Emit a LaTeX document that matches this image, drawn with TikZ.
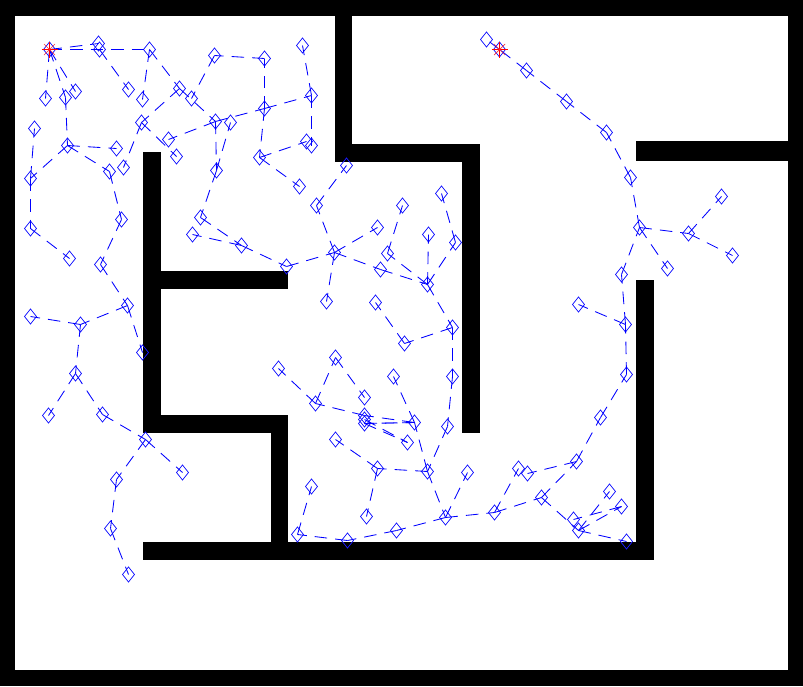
\documentclass[tikz,border=0pt]{standalone}
\usetikzlibrary{shapes.geometric}
\tikzset{
  wall/.style={fill=black,draw=none},
  mk/.style={shape=diamond,draw=blue!90!white,line width=0.75pt,minimum width=12pt,minimum height=15pt,inner sep=0pt,outer sep=0pt},
  lnk/.style={draw=blue,line width=0.85pt,dash pattern=on 12.5pt off 8pt},
  star/.style={draw=red,line width=1pt},
  stardiag/.style={draw=red!80!white,line width=0.7pt},
}
\begin{document}
\begin{tikzpicture}[x=1pt,y=-1pt]
\useasboundingbox (0,0) rectangle (803,686);
\fill[white] (0,0) rectangle (803,686);
% outer frame
\fill[wall] (0,0) rectangle (803,15.5);
\fill[wall] (0,670) rectangle (803,686);
\fill[wall] (0,0) rectangle (15,686);
\fill[wall] (788,0) rectangle (803,686);
% inner walls
\fill[wall] (335,15) rectangle (352,162);
\fill[wall] (335,144) rectangle (480,162);
\fill[wall] (462,144) rectangle (480,433);
\fill[wall] (636,141) rectangle (788,161);
\fill[wall] (636,280) rectangle (654,560);
\fill[wall] (143,542) rectangle (654,560);
\fill[wall] (271,415) rectangle (288,560);
\fill[wall] (143,415) rectangle (288,433);
\fill[wall] (143,152) rectangle (161,433);
\fill[wall] (143,271) rectangle (288,289);
% nodes
\begin{scope}[shift={(0.5,0.5)}]
\foreach \n/\x/\y in {
 Ra/49/49,Rb/499/49,
 a/98/43,b/99/49,c/149/49,d/45/98,e/65/97,f/75/91,g/128/89,h/142/99,i/179/88,j/191/98,
 k/214/55,l/264/58,m/302/45,n/311/95,o/264/108,p/215/121,q/230/122,r/141/122,s/168/139,
 t/176/156,u/123/167,v/116/148,w/67/145,x/34/128,y/30/178,z/109/171,aa/121/219,ab/30/228,
 ac/69/258,ad/100/264,ae/216/170,af/200/217,ag/192/234,ah/241/245,ai/286/266,aj/334/252,
 ak/259/157,al/306/141,am/311/145,an/299/186,ao/316/205,ap/346/165,
 ba/377/227,bb/402/205,bc/387/253,bd/380/269,be/441/193,bf/455/242,bg/428/234,bh/427/284,
 bi/326/301,bj/375/302,bk/404/343,bl/452/327,
 ca/278/368,cb/335/357,cc/315/403,cd/364/397,ce/364/415,cf/364/419,cg/364/423,ch/393/376,
 ci/452/376,cj/414/422,ck/447/426,cl/407/442,cm/335/439,cn/377/468,co/427/471,cp/467/472,
 cq/311/486,cr/366/516,cs/297/534,ct/347/540,cu/396/530,cv/445/517,cw/494/512,cx/518/468,
 cy/527/473,cz/576/461,da/541/497,db/573/519,dc/578/530,dd/609/491,de/621/506,df/626/541,
 dg/600/417,dh/626/374,
 ea/127/305,eb/142/352,ec/80/324,ed/30/316,ee/75/373,ef/48/415,eg/102/414,eh/145/439,
 ei/182/472,ej/116/479,ek/110/528,el/128/574,
 fa/486/39,fb/526/70,fc/566/101,fd/606/132,fe/630/177,ff/639/227,fg/688/233,fh/721/196,
 fi/732/255,fj/667/268,fk/621/274,fl/578/304,fm/625/324}
 {\node[mk] (\n) at (\x,\y) {};}
\end{scope}
% connectors, parent to child
\foreach \s/\t in {
 Ra/a,Ra/b,Ra/c,Ra/d,Ra/e,Ra/f,b/g,c/h,c/i,i/r,r/u,r/t,i/p,p/s,p/o,o/l,l/k,k/j,o/n,n/m,n/am,
 o/ak,ak/al,ak/an,p/ae,ae/q,ae/af,af/ah,ah/ag,ah/ai,ai/aj,aj/ao,ao/ap,
 e/w,w/v,w/y,w/z,y/x,y/ab,ab/ac,z/aa,aa/ad,ad/ea,ea/eb,ea/ec,ec/ed,ec/ee,ee/ef,ee/eg,eg/eh,
 eh/ei,eh/ej,ej/ek,ek/el,
 aj/ba,aj/bi,aj/bd,bd/bh,bh/bc,bc/bb,bh/bg,bh/bf,bf/be,bh/bl,bl/bk,bk/bj,bl/ci,ci/ck,ck/co,
 co/cj,cj/ch,cj/ce,cj/cg,ce/cc,cc/ca,cc/cb,cb/cd,cf/cl,cg/cl,cg/cj,
 co/cn,cn/cm,cn/cr,co/cv,cv/cp,cv/cu,cu/ct,ct/cs,cs/cq,cv/cw,cw/cx,cw/da,da/cz,da/dc,dc/de,
 de/db,dc/dd,dc/df,cz/cy,cz/dg,dg/dh,dh/fm,fm/fl,fm/fk,fk/ff,ff/fj,ff/fg,fg/fh,fg/fi,ff/fe,
 fe/fd,fd/fc,fc/fb,fb/Rb,Rb/fa}
 {\draw[lnk] (\s.center) -- (\t.center);}
% red star markers on the two end points
\foreach \n in {Ra,Rb}{
 \draw[star] ([xshift=-8pt]\n.center) -- ([xshift=8pt]\n.center);
 \draw[star] ([yshift=-8pt]\n.center) -- ([yshift=8pt]\n.center);
 \draw[stardiag] ([shift={(-5.5pt,-5.5pt)}]\n.center) -- ([shift={(5.5pt,5.5pt)}]\n.center);
 \draw[stardiag] ([shift={(-5.5pt,5.5pt)}]\n.center) -- ([shift={(5.5pt,-5.5pt)}]\n.center);
}
\end{tikzpicture}
\end{document}
